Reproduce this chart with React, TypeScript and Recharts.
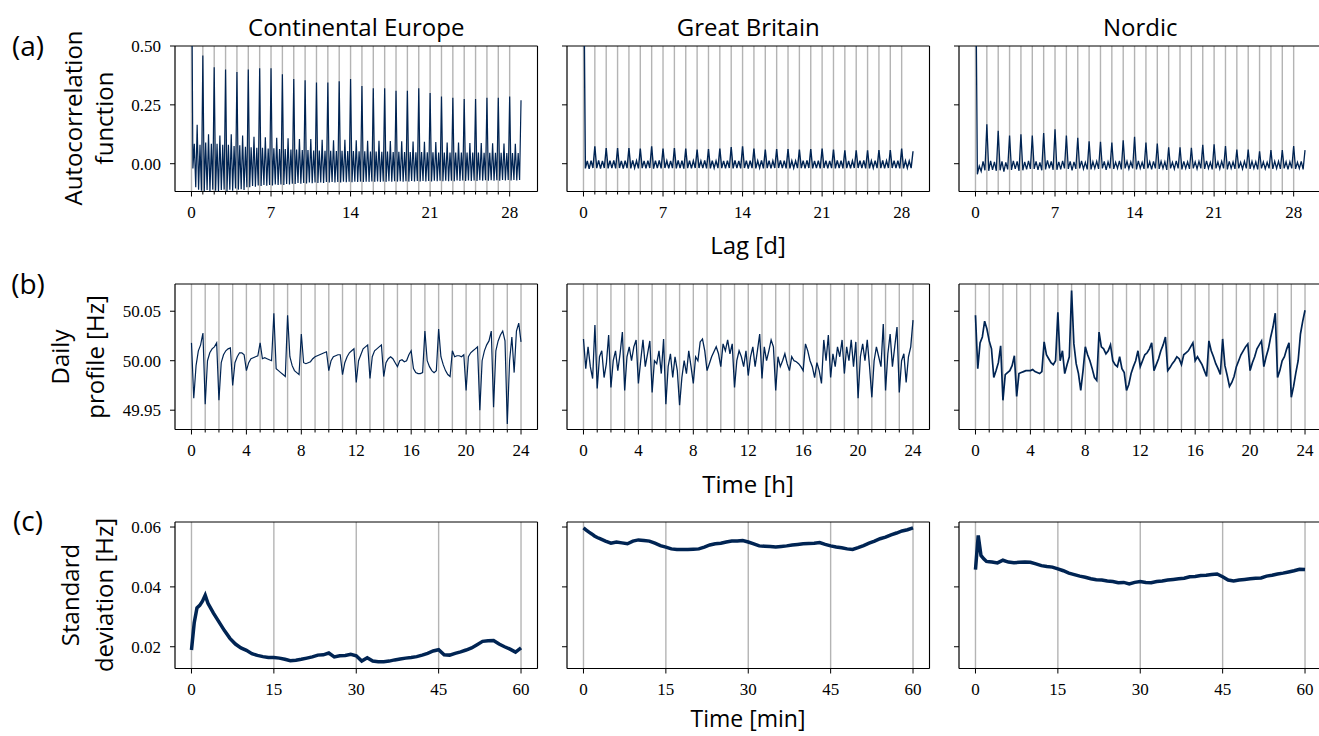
import React from 'react';
import { LineChart, Line, XAxis, YAxis, CartesianGrid, ReferenceArea } from 'recharts';

const NAVY = '#002453';
const GRID = '#b4b4b4';
const SANS = '"Open Sans", sans-serif';
const SERIF = '"Liberation Serif", serif';

// ---------- (a) autocorrelation, lag in days ----------
// Continental Europe, sampled every 3 h (8 per day), 0..29 d
const acfCE = [
  1.0, -0.02, 0.085, -0.1, 0.165, -0.11, 0.08, -0.115,
  0.46, -0.118, 0.09, -0.112, 0.125, -0.118, 0.085, -0.11,
  0.41, -0.115, 0.085, -0.118, 0.12, -0.112, 0.08, -0.11,
  0.4, -0.116, 0.08, -0.11, 0.125, -0.115, 0.075, -0.105,
  0.39, -0.11, 0.078, -0.108, 0.12, -0.112, 0.072, -0.1,
  0.4, -0.1, 0.07, -0.095, 0.115, -0.098, 0.068, -0.092,
  0.405, -0.095, 0.068, -0.09, 0.112, -0.094, 0.065, -0.09,
  0.405, -0.092, 0.066, -0.088, 0.11, -0.09, 0.062, -0.088,
  0.38, -0.09, 0.062, -0.086, 0.108, -0.088, 0.06, -0.085,
  0.36, -0.086, 0.06, -0.082, 0.105, -0.085, 0.058, -0.082,
  0.355, -0.084, 0.058, -0.08, 0.105, -0.083, 0.056, -0.08,
  0.345, -0.082, 0.056, -0.08, 0.102, -0.082, 0.055, -0.078,
  0.345, -0.08, 0.055, -0.078, 0.1, -0.08, 0.054, -0.078,
  0.35, -0.08, 0.055, -0.077, 0.102, -0.079, 0.054, -0.077,
  0.36, -0.079, 0.054, -0.076, 0.1, -0.078, 0.053, -0.076,
  0.33, -0.078, 0.053, -0.076, 0.098, -0.077, 0.052, -0.075,
  0.32, -0.077, 0.052, -0.075, 0.097, -0.077, 0.051, -0.075,
  0.32, -0.077, 0.052, -0.074, 0.096, -0.076, 0.05, -0.074,
  0.31, -0.076, 0.051, -0.074, 0.095, -0.076, 0.05, -0.074,
  0.31, -0.076, 0.05, -0.073, 0.094, -0.075, 0.049, -0.073,
  0.32, -0.075, 0.05, -0.073, 0.093, -0.075, 0.049, -0.073,
  0.3, -0.075, 0.049, -0.072, 0.092, -0.074, 0.048, -0.072,
  0.285, -0.074, 0.048, -0.072, 0.09, -0.074, 0.048, -0.072,
  0.28, -0.074, 0.048, -0.071, 0.09, -0.073, 0.047, -0.071,
  0.275, -0.073, 0.047, -0.071, 0.088, -0.073, 0.047, -0.071,
  0.275, -0.073, 0.047, -0.07, 0.088, -0.072, 0.046, -0.07,
  0.28, -0.072, 0.046, -0.07, 0.087, -0.072, 0.046, -0.07,
  0.28, -0.072, 0.046, -0.069, 0.086, -0.071, 0.045, -0.069,
  0.285, -0.071, 0.045, -0.069, 0.085, -0.071, 0.045, -0.069,
  0.27,
];

// Great Britain, sampled every 4 h (6 per day)
const acfGB = [
  1.0, -0.02, 0.012, -0.022, 0.013, -0.018,
  0.074, -0.019, 0.014, -0.021, 0.012, -0.018,
  0.067, -0.02, 0.013, -0.019, 0.014, -0.02,
  0.067, -0.018, 0.012, -0.021, 0.013, -0.019,
  0.066, -0.02, 0.014, -0.018, 0.012, -0.02,
  0.064, -0.019, 0.012, -0.02, 0.013, -0.018,
  0.074, -0.021, 0.013, -0.019, 0.014, -0.02,
  0.064, -0.018, 0.012, -0.02, 0.012, -0.019,
  0.067, -0.02, 0.014, -0.019, 0.013, -0.021,
  0.064, -0.019, 0.013, -0.02, 0.012, -0.018,
  0.06, -0.018, 0.012, -0.019, 0.014, -0.02,
  0.062, -0.02, 0.013, -0.018, 0.012, -0.019,
  0.064, -0.019, 0.012, -0.02, 0.013, -0.018,
  0.071, -0.02, 0.014, -0.019, 0.012, -0.02,
  0.074, -0.018, 0.013, -0.021, 0.013, -0.019,
  0.064, -0.02, 0.012, -0.018, 0.014, -0.02,
  0.06, -0.019, 0.013, -0.02, 0.012, -0.018,
  0.062, -0.018, 0.014, -0.019, 0.013, -0.02,
  0.062, -0.02, 0.012, -0.018, 0.012, -0.019,
  0.06, -0.019, 0.013, -0.02, 0.014, -0.018,
  0.062, -0.02, 0.012, -0.019, 0.013, -0.02,
  0.064, -0.018, 0.013, -0.02, 0.012, -0.019,
  0.06, -0.02, 0.014, -0.018, 0.013, -0.02,
  0.057, -0.019, 0.012, -0.02, 0.012, -0.018,
  0.057, -0.018, 0.013, -0.019, 0.014, -0.02,
  0.057, -0.02, 0.012, -0.018, 0.013, -0.019,
  0.058, -0.019, 0.014, -0.02, 0.012, -0.018,
  0.058, -0.018, 0.013, -0.019, 0.013, -0.02,
  0.064, -0.02, 0.012, -0.018, 0.012, -0.019,
  0.053,
];

// Nordic, sampled every 4 h (6 per day)
const acfNO = [
  1.0, -0.045, -0.01, -0.032, 0.01, -0.028,
  0.167, -0.03, 0.012, -0.026, 0.008, -0.03,
  0.14, -0.028, 0.01, -0.034, 0.006, -0.024,
  0.12, -0.026, 0.012, -0.022, 0.01, -0.03,
  0.125, -0.028, 0.008, -0.024, 0.012, -0.022,
  0.12, -0.022, 0.01, -0.026, 0.006, -0.028,
  0.13, -0.024, 0.014, -0.02, 0.01, -0.026,
  0.146, -0.026, 0.008, -0.024, 0.012, -0.02,
  0.12, -0.022, 0.01, -0.028, 0.008, -0.022,
  0.11, -0.02, 0.012, -0.022, 0.006, -0.024,
  0.095, -0.024, 0.008, -0.02, 0.01, -0.022,
  0.093, -0.02, 0.01, -0.026, 0.008, -0.02,
  0.09, -0.022, 0.006, -0.02, 0.012, -0.024,
  0.1, -0.02, 0.01, -0.022, 0.008, -0.02,
  0.114, -0.024, 0.012, -0.02, 0.006, -0.022,
  0.09, -0.02, 0.008, -0.024, 0.01, -0.02,
  0.086, -0.022, 0.01, -0.02, 0.008, -0.026,
  0.07, -0.02, 0.006, -0.022, 0.012, -0.02,
  0.07, -0.024, 0.01, -0.02, 0.008, -0.022,
  0.068, -0.02, 0.008, -0.022, 0.01, -0.02,
  0.08, -0.022, 0.012, -0.02, 0.006, -0.024,
  0.083, -0.02, 0.008, -0.022, 0.01, -0.02,
  0.075, -0.024, 0.01, -0.02, 0.008, -0.022,
  0.06, -0.02, 0.006, -0.022, 0.01, -0.02,
  0.06, -0.022, 0.01, -0.02, 0.008, -0.024,
  0.053, -0.02, 0.008, -0.022, 0.006, -0.02,
  0.058, -0.022, 0.01, -0.02, 0.01, -0.022,
  0.058, -0.02, 0.008, -0.024, 0.008, -0.02,
  0.075, -0.022, 0.006, -0.02, 0.01, -0.024,
  0.058,
];

// ---------- (b) daily profile, every 10 min, 0..24 h ----------
const dayCE = [
  50.018, 49.962, 49.995, 50.01, 50.016, 50.028,
  49.956, 50.0, 50.008, 50.012, 50.014, 50.018,
  49.96, 49.998, 50.006, 50.01, 50.012, 50.013,
  49.975, 49.998, 50.004, 50.008, 50.008, 50.006,
  49.99, 49.998, 50.002, 50.003, 50.004, 50.005,
  50.018, 50.002, 50.003, 50.002, 50.001, 50.0,
  50.048, 49.992, 49.99, 49.988, 49.986, 49.984,
  50.046, 50.004, 49.995, 49.99, 49.988, 49.986,
  50.027, 49.998, 49.997, 49.998, 49.999, 50.002,
  50.004, 50.005, 50.006, 50.007, 50.008, 50.009,
  49.99, 50.0, 50.004, 50.005, 50.006, 50.006,
  49.986, 49.998, 50.004, 50.008, 50.01, 50.012,
  49.978, 50.0, 50.006, 50.012, 50.014, 50.016,
  49.982, 50.004, 50.01, 50.012, 50.014, 50.016,
  49.984, 49.998, 50.002, 50.004, 50.002, 49.998,
  49.994, 50.0, 50.001, 49.999, 50.0, 50.006,
  50.01, 49.992, 49.988, 49.987, 49.987, 49.988,
  50.03, 50.0, 49.994, 49.99, 49.988, 49.99,
  50.032, 50.004, 49.996, 49.99, 49.986, 49.984,
  50.01, 50.004, 50.005, 50.005, 50.004, 50.006,
  49.97, 50.004, 50.008, 50.01, 50.012, 50.014,
  49.95, 50.0, 50.01, 50.016, 50.02, 50.03,
  49.953, 50.01, 50.02, 50.026, 50.03, 50.02,
  49.936, 50.0, 50.024, 49.988, 50.03, 50.038,
  50.019,
];

const dayGB = [
  50.022, 49.992, 50.014, 49.994, 49.982, 50.036,
  49.972, 50.004, 50.01, 49.983, 49.997, 50.026,
  49.973, 50.0, 50.01, 49.99, 50.007, 50.029,
  49.97, 50.004, 50.014, 50.0, 50.014, 50.021,
  49.977, 50.0, 50.021, 49.994, 50.007, 50.02,
  49.968, 50.0, 49.997, 50.01, 49.987, 50.022,
  49.956, 49.994, 50.007, 49.983, 50.004, 49.99,
  49.955, 49.983, 50.0, 49.987, 50.01, 49.994,
  49.977, 50.004, 50.0, 50.019, 50.022, 50.01,
  49.99, 49.997, 50.004, 50.009, 50.014, 50.007,
  49.994, 50.017, 50.01, 50.021, 50.007, 50.017,
  49.973, 50.0, 50.01, 50.004, 49.994, 50.01,
  49.985, 50.004, 50.014, 49.994, 50.01, 50.027,
  49.982, 50.014, 50.0, 50.01, 50.021, 50.014,
  49.97, 50.004, 49.994, 50.0, 50.007, 49.997,
  49.99, 50.004, 50.0, 49.999, 49.997, 49.994,
  49.99, 50.017, 50.01, 50.0, 49.994, 49.983,
  49.998, 49.99, 49.977, 50.021, 50.0, 50.026,
  49.983, 50.007, 49.994, 50.014, 50.004, 50.021,
  49.987, 50.014, 50.0, 50.021, 49.994, 50.019,
  49.962, 50.004, 50.017, 50.0, 50.021, 49.994,
  49.963, 50.0, 50.014, 50.004, 49.994, 50.037,
  49.97, 50.007, 50.027, 49.994, 50.014, 50.034,
  49.968, 50.0, 50.007, 49.978, 50.004, 50.014,
  50.041,
];

const dayNO = [
  50.046, 49.992, 50.018, 50.024, 50.04, 50.032,
  50.02, 50.012, 49.983, 49.99, 49.998, 50.015,
  49.96, 49.986, 49.988, 49.99, 49.995, 50.005,
  49.964, 49.987, 49.988, 49.989, 49.99, 49.99,
  49.99, 49.991, 49.989, 49.988, 49.987, 49.989,
  50.019, 50.006, 50.002, 49.998, 49.996, 50.0,
  50.049, 50.0, 50.01, 49.987, 49.996, 50.004,
  50.071, 50.017, 49.997, 49.987, 49.97, 49.99,
  50.014, 50.006, 50.0, 49.992, 49.983, 49.98,
  50.029, 50.014, 50.012, 50.007, 50.01, 50.016,
  50.0, 49.996, 49.994, 50.004, 49.992, 49.988,
  49.97, 49.976, 49.987, 49.994, 50.0, 50.01,
  49.994, 50.0, 50.006, 50.008, 50.012, 50.018,
  49.99, 49.996, 50.002, 50.01, 50.016, 50.024,
  49.99, 49.993, 49.997, 50.0, 50.004, 50.002,
  49.996, 50.006, 50.008, 50.01, 50.014, 50.018,
  50.0, 50.004, 50.0, 49.996, 49.99, 49.984,
  50.02, 50.01, 50.004, 49.997, 49.992, 49.986,
  50.022, 49.995, 49.985, 49.974, 49.978, 49.984,
  49.994, 50.0, 50.006, 50.01, 50.014, 50.017,
  49.99, 49.998, 50.004, 50.012, 50.016, 50.02,
  49.994, 50.004, 50.012, 50.024, 50.034, 50.048,
  49.983, 49.99, 50.0, 50.004, 50.012, 50.018,
  49.963, 49.974, 49.988, 50.0, 50.027, 50.04,
  50.051,
];

// ---------- (c) standard deviation within the hour ----------
const stdTime = [
  0, 0.5, 1, 1.5, 2, 2.5, 3, 4, 5, 6, 7, 8, 9, 10, 11, 12, 13, 14, 15, 16, 17, 18, 19, 20,
  21, 22, 23, 24, 25, 26, 27, 28, 29, 30, 31, 32, 33, 34, 35, 36, 37, 38, 39, 40, 41, 42,
  43, 44, 45, 46, 47, 48, 49, 50, 51, 52, 53, 54, 55, 56, 57, 58, 59, 60,
];
const stdCE = [
  0.0189, 0.028, 0.033, 0.0338, 0.0352, 0.0372, 0.0345, 0.0312, 0.0283, 0.0254, 0.0228, 0.0209,
  0.0196, 0.0188, 0.0177, 0.0171, 0.0167, 0.0164, 0.0164, 0.0162, 0.0158, 0.0153, 0.0155, 0.0158,
  0.0162, 0.0166, 0.0172, 0.0173, 0.0179, 0.0166, 0.017, 0.0171, 0.0175, 0.017, 0.0152, 0.0163,
  0.0152, 0.015, 0.015, 0.0152, 0.0156, 0.0159, 0.0162, 0.0164, 0.0167, 0.0172, 0.0178, 0.0186,
  0.019, 0.0173, 0.0172, 0.0178, 0.0183, 0.0189, 0.0196, 0.0207, 0.0218, 0.022, 0.0221, 0.0209,
  0.02, 0.0192, 0.0182, 0.0196,
];
const stdGB = [
  0.0597, 0.059, 0.0583, 0.0577, 0.057, 0.0565, 0.0561, 0.0553, 0.0546, 0.055, 0.0547, 0.0544,
  0.0553, 0.0557, 0.0555, 0.0553, 0.0546, 0.0538, 0.0533, 0.0527, 0.0525, 0.0525, 0.0525, 0.0526,
  0.0527, 0.0533, 0.054, 0.0544, 0.0546, 0.055, 0.0553, 0.0553, 0.0555, 0.055, 0.0544, 0.0537,
  0.0536, 0.0535, 0.0533, 0.0535, 0.0537, 0.054, 0.0542, 0.0544, 0.0545, 0.0546, 0.0548, 0.0542,
  0.0537, 0.0533, 0.0531, 0.0527, 0.0525, 0.0531, 0.0538, 0.0546, 0.0553, 0.0561, 0.0566, 0.0574,
  0.058, 0.0587, 0.0591, 0.0597,
];
const stdNO = [
  0.0458, 0.0572, 0.0505, 0.0494, 0.0485, 0.0484, 0.0483, 0.048, 0.0489, 0.0483, 0.0481, 0.0482,
  0.0483, 0.0482, 0.0477, 0.0471, 0.0468, 0.0466, 0.046, 0.0454, 0.0446, 0.0441, 0.0436, 0.0432,
  0.0427, 0.0424, 0.0423, 0.042, 0.0418, 0.0414, 0.0415, 0.041, 0.0415, 0.0418, 0.0415, 0.0414,
  0.0418, 0.042, 0.0423, 0.0425, 0.0427, 0.0429, 0.0434, 0.0435, 0.0438, 0.0439, 0.0441, 0.0443,
  0.0434, 0.0423, 0.042, 0.0423, 0.0425, 0.0427, 0.0429, 0.043, 0.0436, 0.0439, 0.0443, 0.0446,
  0.045, 0.0454, 0.0459, 0.0458,
];

// ---------- ticks / labels ----------
const lagTicks = [0, 1, 2, 3, 4, 5, 6, 7, 8, 9, 10, 11, 12, 13, 14, 15, 16, 17, 18, 19, 20, 21, 22, 23, 24, 25, 26, 27, 28];
const hourTicks = [0, 1, 2, 3, 4, 5, 6, 7, 8, 9, 10, 11, 12, 13, 14, 15, 16, 17, 18, 19, 20, 21, 22, 23, 24];
const minTicks = [0, 15, 30, 45, 60];
const acfYTicks = [0, 0.25, 0.5];
const dayYTicks = [49.95, 50.0, 50.05];
const stdYTicks = [0.02, 0.04, 0.06];
const regions = ['Continental Europe', 'Great Britain', 'Nordic'];

// ---------- layout ----------
const PANEL_LEFTS = [175, 567, 959];
const PLOT_W = 362.5;
const YAXIS_W = 70;
const XAXIS_H = 40;
const MT = 12;
const MR = 4;

const XTick = (p: any) => {
  const { x, y, payload, isMajor } = p;
  const v = payload.value;
  const major = isMajor(v);
  return (
    <g>
      <line x1={x} x2={x} y1={y} y2={y + (major ? 5 : 3)} stroke="#000" strokeWidth={1} />
      {major && (
        <text x={x} y={y + 21} textAnchor="middle" dominantBaseline="central" fontFamily={SERIF} fontSize={17} fill="#000">
          {v}
        </text>
      )}
    </g>
  );
};

type PanelProps = {
  left: number;
  top: number;
  plotH: number;
  data: { x: number; y: number }[];
  xDomain: [number, number];
  yDomain: [number, number];
  xTicks: number[];
  isMajor: (v: number) => boolean;
  yTicks: number[];
  showYLabels: boolean;
  strokeWidth: number;
};

function Panel({ left, top, plotH, data, xDomain, yDomain, xTicks, isMajor, yTicks, showYLabels, strokeWidth }: PanelProps) {
  const w = YAXIS_W + PLOT_W + MR;
  const h = MT + plotH + XAXIS_H;
  return (
    <div style={{ position: 'absolute', left: left - YAXIS_W, top: top - MT, width: w, height: h }}>
      <LineChart width={w} height={h} data={data} margin={{ top: MT, right: MR, bottom: 0, left: 0 }}>
        <CartesianGrid horizontal={false} stroke={GRID} strokeWidth={1.4} />
        <XAxis
          dataKey="x"
          type="number"
          domain={xDomain}
          ticks={xTicks}
          interval={0}
          allowDataOverflow
          axisLine={false}
          tickLine={false}
          tickSize={0}
          tickMargin={0}
          height={XAXIS_H}
          tick={(p: any) => <XTick {...p} isMajor={isMajor} />}
        />
        <YAxis
          type="number"
          domain={yDomain}
          ticks={yTicks}
          interval={0}
          allowDataOverflow
          width={YAXIS_W}
          axisLine={false}
          tickSize={5}
          tickMargin={9}
          tickLine={{ stroke: '#000', strokeWidth: 1 }}
          tick={{ fill: '#000', fontFamily: SERIF, fontSize: 17 }}
          tickFormatter={(v: number) => (showYLabels ? v.toFixed(2) : '')}
        />
        <Line type="linear" dataKey="y" stroke={NAVY} strokeWidth={strokeWidth} dot={false} isAnimationActive={false} />
        <ReferenceArea x1={xDomain[0]} x2={xDomain[1]} y1={yDomain[0]} y2={yDomain[1]} fill="none" fillOpacity={0} stroke="#000" strokeWidth={1} />
      </LineChart>
    </div>
  );
}

const rowA = [acfCE, acfGB, acfNO].map((arr, k) => arr.map((v, i) => ({ x: i / (k === 0 ? 8 : 6), y: v })));
const rowB = [dayCE, dayGB, dayNO].map((arr) => arr.map((v, i) => ({ x: i / 6, y: v })));
const rowC = [stdCE, stdGB, stdNO].map((arr) => arr.map((v, i) => ({ x: stdTime[i], y: v })));

const widthA = [1.2, 1.4, 1.3];
const widthB = [1.2, 1.3, 1.7];

export default function App() {
  return (
    <div style={{ position: 'absolute', left: 0, top: 0, width: 1319, height: 736, background: '#fff', overflow: 'hidden' }}>
      {PANEL_LEFTS.map((L, k) => (
        <Panel
          key={'a' + k}
          left={L}
          top={45.7}
          plotH={145.5}
          data={rowA[k]}
          xDomain={[-1.45, 30.45]}
          yDomain={[-0.118, 0.5]}
          xTicks={lagTicks}
          isMajor={(v) => v % 7 === 0}
          yTicks={acfYTicks}
          showYLabels={k === 0}
          strokeWidth={widthA[k]}
        />
      ))}
      {PANEL_LEFTS.map((L, k) => (
        <Panel
          key={'b' + k}
          left={L}
          top={284}
          plotH={145.5}
          data={rowB[k]}
          xDomain={[-1.2, 25.2]}
          yDomain={[49.9305, 50.0775]}
          xTicks={hourTicks}
          isMajor={(v) => v % 4 === 0}
          yTicks={dayYTicks}
          showYLabels={k === 0}
          strokeWidth={widthB[k]}
        />
      ))}
      {PANEL_LEFTS.map((L, k) => (
        <Panel
          key={'c' + k}
          left={L}
          top={521.5}
          plotH={146.5}
          data={rowC[k]}
          xDomain={[-3, 63]}
          yDomain={[0.01273, 0.06168]}
          xTicks={minTicks}
          isMajor={() => true}
          yTicks={stdYTicks}
          showYLabels={k === 0}
          strokeWidth={3.5}
        />
      ))}
      <svg width={1319} height={736} style={{ position: 'absolute', left: 0, top: 0, pointerEvents: 'none' }}>
        <g fontFamily={SANS} fill="#000">
          {regions.map((r, k) => (
            <text key={r} x={PANEL_LEFTS[k] + PLOT_W / 2} y={26} textAnchor="middle" dominantBaseline="central" fontSize={24}>
              {r}
            </text>
          ))}
          <text x={748} y={244} textAnchor="middle" dominantBaseline="central" fontSize={24}>Lag [d]</text>
          <text x={748} y={483} textAnchor="middle" dominantBaseline="central" fontSize={24}>Time [h]</text>
          <text x={748} y={718} textAnchor="middle" dominantBaseline="central" fontSize={23}>Time [min]</text>
          <text x={28} y={45} textAnchor="middle" dominantBaseline="central" fontSize={28}>(a)</text>
          <text x={28} y={283} textAnchor="middle" dominantBaseline="central" fontSize={28}>(b)</text>
          <text x={28} y={520} textAnchor="middle" dominantBaseline="central" fontSize={28}>(c)</text>
          <text transform="translate(72,118) rotate(-90)" textAnchor="middle" dominantBaseline="central" fontSize={24}>Autocorrelation</text>
          <text transform="translate(103,118) rotate(-90)" textAnchor="middle" dominantBaseline="central" fontSize={24}>function</text>
          <text transform="translate(59,357) rotate(-90)" textAnchor="middle" dominantBaseline="central" fontSize={24}>Daily</text>
          <text transform="translate(94,357) rotate(-90)" textAnchor="middle" dominantBaseline="central" fontSize={24}>profile [Hz]</text>
          <text transform="translate(69,595) rotate(-90)" textAnchor="middle" dominantBaseline="central" fontSize={24}>Standard</text>
          <text transform="translate(103,595) rotate(-90)" textAnchor="middle" dominantBaseline="central" fontSize={24}>deviation [Hz]</text>
        </g>
      </svg>
    </div>
  );
}
